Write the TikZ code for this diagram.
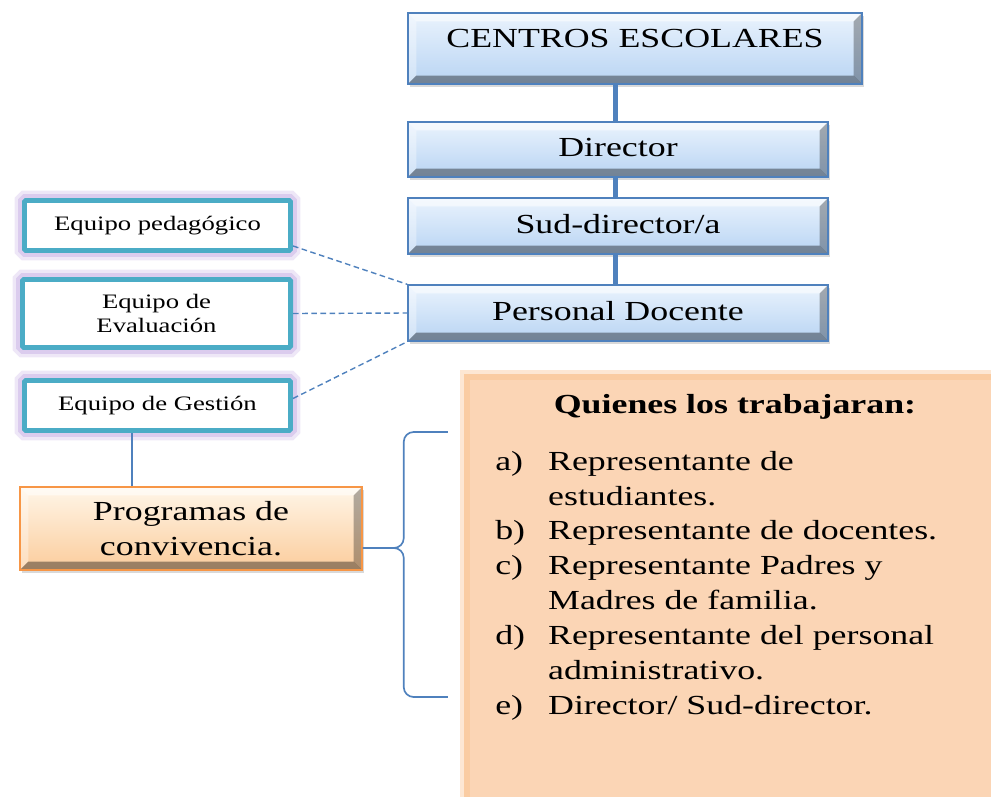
\documentclass[tikz,border=0pt]{standalone}
\usepackage{fontspec}
\setmainfont{Liberation Serif}[FakeStretch=1.3]
\usepackage{tikz}
\usetikzlibrary{calc,shadows}

\definecolor{azulborde}{RGB}{79,129,189}
\definecolor{azulclaro}{RGB}{234,243,253}
\definecolor{azulmedio}{RGB}{184,212,243}
\definecolor{turquesa}{RGB}{75,172,198}
\definecolor{lila}{RGB}{206,186,232}
\definecolor{naranjaborde}{RGB}{247,150,70}
\definecolor{naranjaclaro}{RGB}{255,246,232}
\definecolor{naranjamedio}{RGB}{251,204,156}
\definecolor{salmon}{RGB}{251,213,181}
\definecolor{salmonborde}{RGB}{248,186,130}

\tikzstyle{bisel}=[path picture={
  \coordinate (bnw) at (path picture bounding box.north west);
  \coordinate (bne) at (path picture bounding box.north east);
  \coordinate (bsw) at (path picture bounding box.south west);
  \coordinate (bse) at (path picture bounding box.south east);
  \fill[white,opacity=.55] (bnw) -- (bne) -- ([shift={(-6pt,-6pt)}]bne) -- ([shift={(6pt,-6pt)}]bnw) -- cycle;
  \fill[white,opacity=.35] (bnw) -- ([shift={(6pt,-6pt)}]bnw) -- ([shift={(6pt,6pt)}]bsw) -- (bsw) -- cycle;
  \fill[black,opacity=.38] (bsw) -- ([shift={(6pt,6pt)}]bsw) -- ([shift={(-6pt,6pt)}]bse) -- (bse) -- cycle;
  \fill[black,opacity=.3] (bne) -- (bse) -- ([shift={(-6pt,6pt)}]bse) -- ([shift={(-6pt,-6pt)}]bne) -- cycle;
}]
\tikzstyle{grande}=[font=\fontsize{19.6}{24.8}\selectfont]
\tikzstyle{chica}=[font=\fontsize{14.6}{17.7}\selectfont]
\tikzstyle{cargo}=[draw=azulborde, line width=1pt, top color=azulclaro, bottom color=azulmedio, bisel, grande,
                   text height=14pt, text depth=4pt, drop shadow={shadow xshift=1.5pt, shadow yshift=-2pt, opacity=.3}]
\tikzstyle{equipo}=[draw=turquesa, line width=3.5pt, fill=white, rounded corners=1pt, chica, align=center,
                    preaction={draw=lila, line width=14pt, rounded corners=6pt, opacity=.35},
                    preaction={draw=lila, line width=9pt, rounded corners=4pt, opacity=.6}]
\tikzstyle{programa}=[draw=naranjaborde, line width=1pt, top color=naranjaclaro, bottom color=naranjamedio, bisel, grande,
                      align=center, drop shadow={shadow xshift=1.5pt, shadow yshift=-2pt, opacity=.3}]
\tikzstyle{eje}=[azulborde, line width=3.5pt]
\tikzstyle{enlace}=[azulborde, line width=1pt, dash pattern=on 4pt off 2.5pt]
\tikzstyle{linea}=[azulborde, line width=1.2pt]

\begin{document}
\begin{tikzpicture}[x=0.025cm, y=-0.025cm]
  \useasboundingbox (0,0) rectangle (991,796);

  % ── cuadro de integrantes (fondo) ──────────────────────────────────────────
  \node[fill=salmon, minimum width=13.125cm, minimum height=10.5cm, inner sep=0pt,
        preaction={draw=salmonborde, line width=14pt, opacity=.35},
        preaction={draw=salmonborde, line width=8pt, opacity=.6}] (cuadro) at (732.5,590) {};
  \node[grande, font=\fontsize{19.6}{24.8}\selectfont\bfseries] (titulo) at (735,407) {Quienes los trabajaran:};
  \node[grande, anchor=north west, inner sep=0pt] (lista) at (495,445.5) {%
    \begin{tabular}{@{}p{37.6pt}@{}l@{}}
      a) & Representante de\\
         & estudiantes.\\
      b) & Representante de docentes.\\
      c) & Representante Padres y\\
         & Madres de familia.\\
      d) & Representante del personal\\
         & administrativo.\\
      e) & Director/ Sud-director.
    \end{tabular}};

  % ── jerarquía del centro ───────────────────────────────────────────────────
  \node[cargo, minimum width=11.35cm, minimum height=1.775cm, text depth=16pt] (centros) at (635,48.5) {CENTROS ESCOLARES};
  \node[cargo, minimum width=10.5cm, minimum height=1.375cm] (director) at (618,149.5) {Director};
  \node[cargo, minimum width=10.5cm, minimum height=1.4cm] (subdirector) at (618,226) {Sud-director/a};
  \node[cargo, minimum width=10.5cm, minimum height=1.4cm] (docente) at (618,313) {Personal Docente};

  \draw[eje] ([xshift=-2pt]centros.south -| director.north) -- ([xshift=-2pt]director.north);
  \draw[eje] ([xshift=-2pt]director.south) -- ([xshift=-2pt]subdirector.north);
  \draw[eje] ([xshift=-2pt]subdirector.south) -- ([xshift=-2pt]docente.north);

  % ── equipos ────────────────────────────────────────────────────────────────
  \node[equipo, minimum width=6.65cm, minimum height=1.25cm] (pedagogico) at (157.5,225.5) {Equipo pedagógico};
  \node[equipo, minimum width=6.7cm, minimum height=1.7cm] (evaluacion) at (156.5,313.5) {Equipo de\\Evaluación};
  \node[equipo, minimum width=6.65cm, minimum height=1.25cm] (gestion) at (157.5,405.5) {Equipo de Gestión};

  \draw[enlace] ($(pedagogico.south east)+(0,-7)$) -- (docente.north west);
  \draw[enlace] (evaluacion.east) -- (docente.west);
  \draw[enlace] ($(gestion.east)+(0,-7)$) -- (docente.south west);

  % ── programas ──────────────────────────────────────────────────────────────
  \node[programa, minimum width=8.55cm, minimum height=2.075cm] (programas) at (191,528.5) {Programas de\\convivencia.};

  \coordinate (bajada) at ($(gestion.south)+(-25.5,0)$);
  \draw[linea] (bajada) -- (bajada |- programas.north);

  \coordinate (punta) at ($(programas.east)+(0,19.5)$);
  \draw[linea, rounded corners=7pt] (punta) -| ++(41,-116) -- ++(44,0);
  \draw[linea, rounded corners=7pt] (punta) -| ++(41,149) -- ++(44,0);

\end{tikzpicture}
\end{document}
